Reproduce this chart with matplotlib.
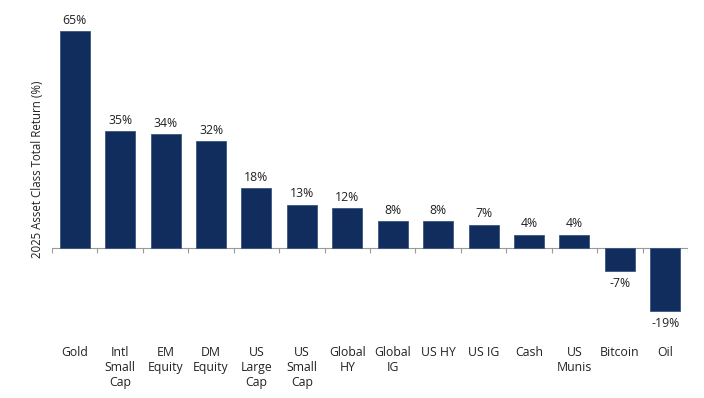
import matplotlib.pyplot as plt
import numpy as np

categories = ["Gold", "Intl\nSmall\nCap", "EM\nEquity", "DM\nEquity", "US\nLarge\nCap",
              "US\nSmall\nCap", "Global\nHY", "Global\nIG", "US HY", "US IG", "Cash",
              "US\nMunis", "Bitcoin", "Oil"]
returns = [65, 35, 34, 32, 18, 13, 12, 8, 8, 7, 4, 4, -7, -19]

plt.rcParams["font.family"] = ["Open Sans", "DejaVu Sans"]

fig = plt.figure(figsize=(7.04, 3.98), dpi=100)
ax = fig.add_axes([52 / 704, 60 / 398, 636 / 704, 318 / 398])

x = np.arange(len(categories))
bars = ax.bar(x, returns, width=0.66, color="#102d5e", edgecolor="#3a5680", linewidth=0.6, zorder=3)

for xi, v in zip(x, returns):
    if v >= 0:
        ax.annotate(f"{v}%", (xi, v), xytext=(0, 3), textcoords="offset points",
                    ha="center", va="bottom", fontsize=8.8, color="#222222")
    else:
        ax.annotate(f"{v}%", (xi, v), xytext=(0, -4), textcoords="offset points",
                    ha="center", va="top", fontsize=8.8, color="#222222")

# zero line with small downward ticks between categories
ax.axhline(0, color="#9a9a9a", linewidth=0.8, zorder=2)
ax.vlines(np.arange(len(categories) + 1) - 0.5, -1.5, 0, color="#9a9a9a", linewidth=0.8)

ax.set_xlim(-0.5, len(categories) - 0.5)
ax.set_ylim(-27, 68.3)
ax.set_xticks(x)
ax.set_xticklabels(categories, fontsize=8.8, color="#222222", linespacing=1.2, va="top")
ax.tick_params(axis="x", length=0, pad=6)
ax.set_yticks([])
for s in ax.spines.values():
    s.set_visible(False)

ax.set_ylabel("2025 Asset Class Total Return (%)", fontsize=8.3, color="#222222")
ax.yaxis.set_label_coords(-0.013, 0.53)

fig.savefig("out.png", dpi=100)
